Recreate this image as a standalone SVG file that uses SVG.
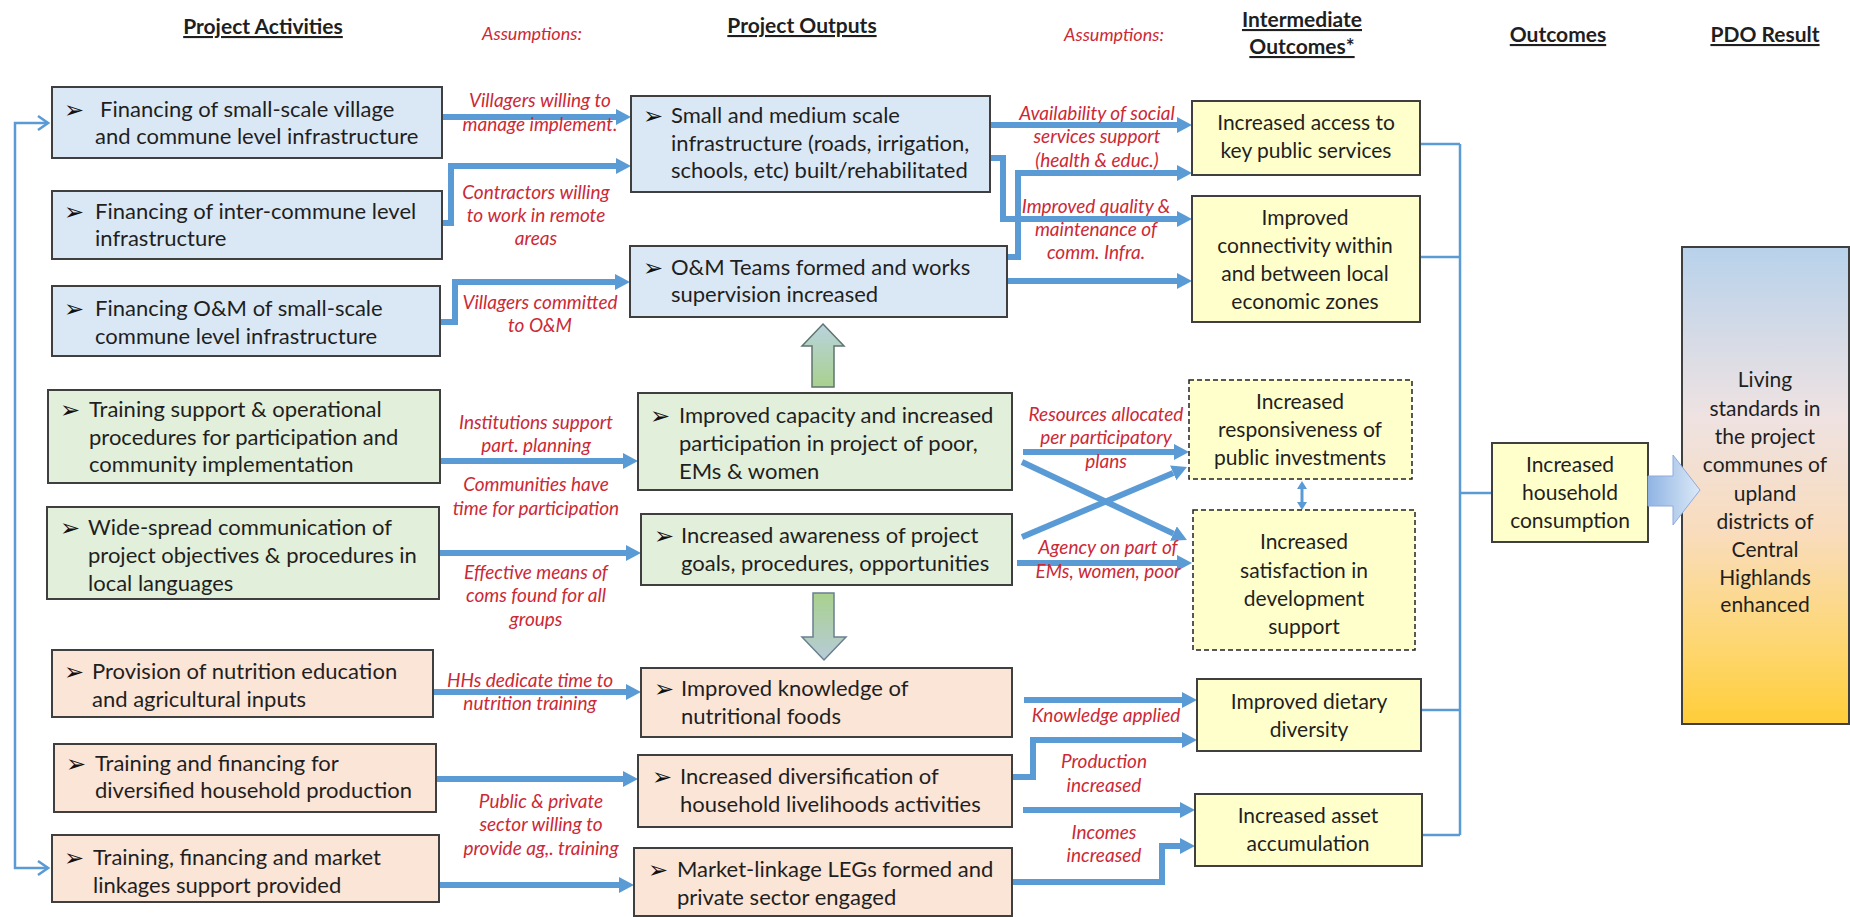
<svg xmlns="http://www.w3.org/2000/svg" width="1850" height="917" viewBox="0 0 1850 917">
<style>
text{font-family:Lato,"Liberation Sans",sans-serif;fill:#1f1f1f;}
.t{font-size:22px;}
.c{font-size:21px;text-anchor:middle;}
.h{font-size:21px;font-weight:bold;text-anchor:middle;text-decoration:underline;}
.a{font-size:19px;font-style:italic;fill:#cc2936;text-anchor:middle;}
.b{font-family:"DejaVu Sans",sans-serif;font-size:24px;fill:#111;}
.blue{fill:#dae8f5;stroke:#3f3f3f;stroke-width:2;}
.green{fill:#e2efda;stroke:#3f3f3f;stroke-width:2;}
.peach{fill:#fbe5d6;stroke:#3f3f3f;stroke-width:2;}
.yel{fill:#ffffcc;stroke:#3f3f3f;stroke-width:2;}
.dash{fill:#ffffcc;stroke:#222;stroke-width:1.5;stroke-dasharray:5,3;}
.thick{fill:none;stroke:#5b9bd5;stroke-width:6;marker-end:url(#ah);}
.thin{fill:none;stroke:#5b9bd5;stroke-width:2.5;}
</style>
<defs>
<marker id="ah" viewBox="0 -8 15 16" refX="0" refY="0" markerWidth="15" markerHeight="16" markerUnits="userSpaceOnUse" orient="auto"><path d="M0,-8 L15,0 L0,8 z" fill="#5b9bd5"/></marker>
<marker id="ch" viewBox="-12 -9 14 18" refX="0" refY="0" markerWidth="14" markerHeight="18" markerUnits="userSpaceOnUse" orient="auto-start-reverse"><path d="M-10,-7 L0,0 L-10,7" fill="none" stroke="#5b9bd5" stroke-width="2.5"/></marker>
<marker id="sm" viewBox="0 -5 8 10" refX="0" refY="0" markerWidth="8" markerHeight="10" markerUnits="userSpaceOnUse" orient="auto-start-reverse"><path d="M0,-5 L8,0 L0,5 z" fill="#5b9bd5"/></marker>
<linearGradient id="pdo" x1="0" y1="0" x2="0" y2="1">
<stop offset="0" stop-color="#b8d2eb"/><stop offset="0.35" stop-color="#eee2e2"/><stop offset="0.6" stop-color="#f9dcbc"/><stop offset="0.85" stop-color="#fed66c"/><stop offset="1" stop-color="#ffcd38"/>
</linearGradient>
<linearGradient id="big" x1="0" y1="0" x2="1" y2="0">
<stop offset="0" stop-color="#8fb4e3"/><stop offset="1" stop-color="#dce9f7"/>
</linearGradient>
<linearGradient id="up" x1="0" y1="0" x2="0" y2="1">
<stop offset="0" stop-color="#b9d3de"/><stop offset="1" stop-color="#a9d18e"/>
</linearGradient>
<linearGradient id="down" x1="0" y1="0" x2="0" y2="1">
<stop offset="0" stop-color="#a9d18e"/><stop offset="1" stop-color="#b7cbd8"/>
</linearGradient>
</defs>
<rect width="1850" height="917" fill="#ffffff"/>

<g id="headers">
<text class="h" x="263" y="34">Project Activities</text>
<text class="a" x="532" y="40" style="font-size:18px">Assumptions:</text>
<text class="h" x="802" y="33">Project Outputs</text>
<text class="a" x="1114" y="41" style="font-size:18px">Assumptions:</text>
<text class="h" x="1302" y="27">Intermediate</text>
<text class="h" x="1302" y="54">Outcomes*</text>
<text class="h" x="1558" y="42">Outcomes</text>
<text class="h" x="1765" y="42">PDO Result</text>
</g>

<g id="connectors">
<path class="thin" d="M48,123 H15 V868 H48" marker-start="url(#ch)" marker-end="url(#ch)"/>
<path class="thick" d="M443,117 H616"/>
<path class="thick" d="M442,223 H451 V166 H616"/>
<path class="thick" d="M440,322 H455 V282 H615"/>
<path class="thick" d="M440,461 H623"/>
<path class="thick" d="M439,553 H626"/>
<path class="thick" d="M433,692 H626"/>
<path class="thick" d="M436,779 H623"/>
<path class="thick" d="M439,885 H619"/>
<path class="thick" d="M990,125 H1177"/>
<path class="thick" d="M990,158 H1003 V219 H1177"/>
<path class="thick" d="M1007,257 H1018 V173 H1177"/>
<path class="thick" d="M1007,281 H1177"/>
<path class="thick" d="M1023,452 H1174"/>
<path class="thick" d="M1022,462 L1173.4,533.6"/>
<path class="thick" d="M1022,537 L1173.2,472.9"/>
<path class="thick" d="M1017,563 H1177"/>
<path class="thick" d="M1024,700 H1182"/>
<path class="thick" d="M1012,777 H1033 V740 H1182"/>
<path class="thick" d="M1023,810 H1180"/>
<path class="thick" d="M1012,882 H1162 V846 H1180"/>
<path class="thin" d="M1420,144 H1460 M1420,257 H1460 M1421,710 H1460 M1422,835 H1460 M1460,144 V835 M1460,493 H1492"/>
<path fill="none" stroke="#5b9bd5" stroke-width="3" d="M1302,489 V502" marker-start="url(#sm)" marker-end="url(#sm)"/>
<polygon points="823,324 844,346 834,346 834,387 812,387 812,346 802,346" fill="url(#up)" stroke="#5f7470" stroke-width="1.5"/>
<polygon points="813,593 834,593 834,637 846,637 824,660 802,637 813,637" fill="url(#down)" stroke="#6a8090" stroke-width="1.5"/>
</g>

<g id="assumptions">
<text class="a" x="540" y="107">Villagers willing to</text>
<text class="a" x="540" y="131">manage implement.</text>
<text class="a" x="536" y="199">Contractors willing</text>
<text class="a" x="536" y="222">to work in remote</text>
<text class="a" x="536" y="245">areas</text>
<text class="a" x="540" y="309">Villagers committed</text>
<text class="a" x="540" y="332">to O&amp;M</text>
<text class="a" x="536" y="429">Institutions support</text>
<text class="a" x="536" y="452">part. planning</text>
<text class="a" x="536" y="491">Communities have</text>
<text class="a" x="536" y="515">time for participation</text>
<text class="a" x="536" y="579">Effective means of</text>
<text class="a" x="536" y="602">coms found for all</text>
<text class="a" x="536" y="626">groups</text>
<text class="a" x="530" y="687">HHs dedicate time to</text>
<text class="a" x="530" y="710">nutrition training</text>
<text class="a" x="541" y="808">Public &amp; private</text>
<text class="a" x="541" y="831">sector willing to</text>
<text class="a" x="541" y="855">provide ag,. training</text>
<text class="a" x="1097" y="120">Availability of social</text>
<text class="a" x="1097" y="143">services support</text>
<text class="a" x="1097" y="167">(health &amp; educ.)</text>
<text class="a" x="1096" y="213">Improved quality &amp;</text>
<text class="a" x="1096" y="236">maintenance of</text>
<text class="a" x="1096" y="259">comm. Infra.</text>
<text class="a" x="1106" y="421">Resources allocated</text>
<text class="a" x="1106" y="444">per participatory</text>
<text class="a" x="1106" y="468">plans</text>
<text class="a" x="1108" y="554">Agency on part of</text>
<text class="a" x="1108" y="578">EMs, women, poor</text>
<text class="a" x="1106" y="722">Knowledge applied</text>
<text class="a" x="1104" y="768">Production</text>
<text class="a" x="1104" y="792">increased</text>
<text class="a" x="1104" y="839">Incomes</text>
<text class="a" x="1104" y="862">increased</text>
</g>

<g id="a1"><rect class="blue" x="52" y="87" width="390" height="71"/>
<text class="b" x="64" y="118">➢</text><text class="t" x="100" y="117">Financing of small-scale village</text><text class="t" x="95" y="144">and commune level infrastructure</text></g>
<g id="a2"><rect class="blue" x="52" y="191" width="390" height="68"/>
<text class="b" x="64" y="220">➢</text><text class="t" x="95" y="219">Financing of inter-commune level</text><text class="t" x="95" y="246">infrastructure</text></g>
<g id="a3"><rect class="blue" x="52" y="286" width="388" height="70"/>
<text class="b" x="64" y="317">➢</text><text class="t" x="95" y="316">Financing O&amp;M of small-scale</text><text class="t" x="95" y="344">commune level infrastructure</text></g>
<g id="a4"><rect class="green" x="48" y="390" width="392" height="93"/>
<text class="b" x="60" y="418">➢</text><text class="t" x="89" y="417">Training support &amp; operational</text><text class="t" x="89" y="445">procedures for participation and</text><text class="t" x="89" y="472">community implementation</text></g>
<g id="a5"><rect class="green" x="47" y="507" width="392" height="92"/>
<text class="b" x="60" y="536">➢</text><text class="t" x="88" y="535">Wide-spread communication of</text><text class="t" x="88" y="563">project objectives &amp; procedures in</text><text class="t" x="88" y="591">local languages</text></g>
<g id="a6"><rect class="peach" x="52" y="650" width="381" height="67"/>
<text class="b" x="64" y="680">➢</text><text class="t" x="92" y="679">Provision of nutrition education</text><text class="t" x="92" y="707">and agricultural inputs</text></g>
<g id="a7"><rect class="peach" x="54" y="744" width="382" height="68"/>
<text class="b" x="66" y="772">➢</text><text class="t" x="95" y="771">Training and financing for</text><text class="t" x="95" y="798">diversified household production</text></g>
<g id="a8"><rect class="peach" x="52" y="835" width="387" height="67"/>
<text class="b" x="64" y="866">➢</text><text class="t" x="93" y="865">Training, financing and market</text><text class="t" x="93" y="893">linkages support provided</text></g>

<g id="o1"><rect class="blue" x="631" y="96" width="359" height="96"/>
<text class="b" x="643" y="124">➢</text><text class="t" x="671" y="123">Small and medium scale</text><text class="t" x="671" y="151">infrastructure (roads, irrigation,</text><text class="t" x="671" y="178">schools, etc) built/rehabilitated</text></g>
<g id="o2"><rect class="blue" x="630" y="246" width="377" height="71"/>
<text class="b" x="643" y="276">➢</text><text class="t" x="671" y="275">O&amp;M Teams formed and works</text><text class="t" x="671" y="302">supervision increased</text></g>
<g id="o3"><rect class="green" x="638" y="393" width="374" height="97"/>
<text class="b" x="650" y="424">➢</text><text class="t" x="679" y="423">Improved capacity and increased</text><text class="t" x="679" y="451">participation in project of poor,</text><text class="t" x="679" y="479">EMs &amp; women</text></g>
<g id="o4"><rect class="green" x="641" y="514" width="371" height="71"/>
<text class="b" x="654" y="544">➢</text><text class="t" x="681" y="543">Increased awareness of project</text><text class="t" x="681" y="571">goals, procedures, opportunities</text></g>
<g id="o5"><rect class="peach" x="641" y="668" width="371" height="69"/>
<text class="b" x="654" y="697">➢</text><text class="t" x="681" y="696">Improved knowledge of</text><text class="t" x="681" y="724">nutritional foods</text></g>
<g id="o6"><rect class="peach" x="638" y="755" width="374" height="72"/>
<text class="b" x="652" y="785">➢</text><text class="t" x="680" y="784">Increased diversification of</text><text class="t" x="680" y="812">household livelihoods activities</text></g>
<g id="o7"><rect class="peach" x="634" y="848" width="378" height="68"/>
<text class="b" x="648" y="878">➢</text><text class="t" x="677" y="877">Market-linkage LEGs formed and</text><text class="t" x="677" y="905">private sector engaged</text></g>

<g id="i1"><rect class="yel" x="1192" y="101" width="228" height="74"/>
<text class="c" x="1306" y="130">Increased access to</text><text class="c" x="1306" y="158">key public services</text></g>
<g id="i2"><rect class="yel" x="1192" y="196" width="228" height="126"/>
<text class="c" x="1305" y="225">Improved</text><text class="c" x="1305" y="253">connectivity within</text><text class="c" x="1305" y="281">and between local</text><text class="c" x="1305" y="309">economic zones</text></g>
<g id="i3"><rect class="dash" x="1189" y="380" width="223" height="99"/>
<text class="c" x="1300" y="409">Increased</text><text class="c" x="1300" y="437">responsiveness of</text><text class="c" x="1300" y="465">public investments</text></g>
<g id="i4"><rect class="dash" x="1193" y="510" width="222" height="140"/>
<text class="c" x="1304" y="549">Increased</text><text class="c" x="1304" y="578">satisfaction in</text><text class="c" x="1304" y="606">development</text><text class="c" x="1304" y="634">support</text></g>
<g id="i5"><rect class="yel" x="1197" y="679" width="224" height="72"/>
<text class="c" x="1309" y="709">Improved dietary</text><text class="c" x="1309" y="737">diversity</text></g>
<g id="i6"><rect class="yel" x="1195" y="794" width="227" height="72"/>
<text class="c" x="1308" y="823">Increased asset</text><text class="c" x="1308" y="851">accumulation</text></g>

<g id="outcome"><rect class="yel" x="1492" y="443" width="156" height="99"/>
<text class="c" x="1570" y="472">Increased</text><text class="c" x="1570" y="500">household</text><text class="c" x="1570" y="528">consumption</text></g>

<g id="pdo"><rect x="1682" y="247" width="167" height="477" fill="url(#pdo)" stroke="#3f3f3f" stroke-width="2"/>
<text class="c" x="1765" y="387">Living</text><text class="c" x="1765" y="416">standards in</text><text class="c" x="1765" y="444">the project</text><text class="c" x="1765" y="472">communes of</text><text class="c" x="1765" y="501">upland</text><text class="c" x="1765" y="529">districts of</text><text class="c" x="1765" y="557">Central</text><text class="c" x="1765" y="585">Highlands</text><text class="c" x="1765" y="612">enhanced</text></g>

<g id="bigarrow"><polygon points="1648,476 1673,476 1673,455 1700,490 1673,525 1673,506 1648,506" fill="url(#big)" stroke="#8faadc" stroke-width="1"/></g>
</svg>
